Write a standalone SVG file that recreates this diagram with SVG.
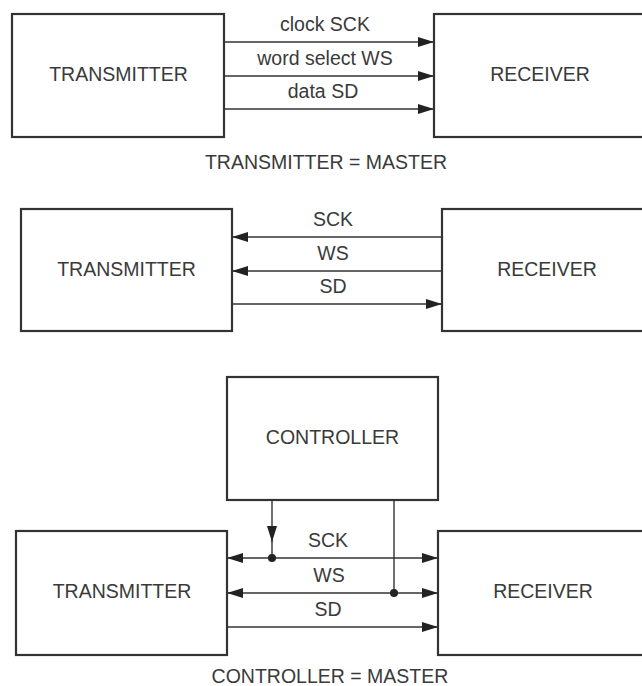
<svg xmlns="http://www.w3.org/2000/svg" width="642" height="686" viewBox="0 0 642 686">
<style>
.box{fill:#fff;stroke:#333;stroke-width:2.2}
.t{font-family:"Liberation Sans",Arial,sans-serif;font-size:19.5px;fill:#3a3a3a;text-anchor:middle}
.ln{stroke:#333;stroke-width:1.4;fill:none}
.dot{fill:#222}
</style>
<defs>
<marker id="ah" markerUnits="userSpaceOnUse" markerWidth="17" markerHeight="11" refX="16" refY="5" orient="auto-start-reverse">
<path d="M0,0 L16,5 L0,10 z" fill="#222"/>
</marker>
</defs>
<rect width="642" height="686" fill="#fff"/>

<g id="tx1"><rect class="box" x="12" y="14" width="212" height="123"/><text class="t" x="118.5" y="81">TRANSMITTER</text></g>
<g id="rx1"><rect class="box" x="434" y="14" width="220" height="123"/><text class="t" x="540" y="81">RECEIVER</text></g>
<g id="tx2"><rect class="box" x="21" y="209" width="211" height="122"/><text class="t" x="126.5" y="276">TRANSMITTER</text></g>
<g id="rx2"><rect class="box" x="442" y="209" width="212" height="122"/><text class="t" x="547" y="276">RECEIVER</text></g>
<g id="ctrl"><rect class="box" x="227" y="377" width="211" height="123"/><text class="t" x="332.5" y="444">CONTROLLER</text></g>
<g id="tx3"><rect class="box" x="16" y="531" width="211" height="124"/><text class="t" x="122" y="598">TRANSMITTER</text></g>
<g id="rx3"><rect class="box" x="438" y="531" width="216" height="124"/><text class="t" x="543" y="598">RECEIVER</text></g>

<g id="connectors">
<line class="ln" x1="224" y1="42" x2="434" y2="42" marker-end="url(#ah)"/>
<line class="ln" x1="224" y1="76" x2="434" y2="76" marker-end="url(#ah)"/>
<line class="ln" x1="224" y1="109" x2="434" y2="109" marker-end="url(#ah)"/>

<line class="ln" x1="442" y1="237" x2="232" y2="237" marker-end="url(#ah)"/>
<line class="ln" x1="442" y1="271" x2="232" y2="271" marker-end="url(#ah)"/>
<line class="ln" x1="232" y1="304" x2="442" y2="304" marker-end="url(#ah)"/>

<line class="ln" x1="227" y1="558" x2="438" y2="558" marker-start="url(#ah)" marker-end="url(#ah)"/>
<line class="ln" x1="227" y1="593" x2="438" y2="593" marker-start="url(#ah)" marker-end="url(#ah)"/>
<line class="ln" x1="227" y1="627" x2="438" y2="627" marker-end="url(#ah)"/>
<line class="ln" x1="272" y1="500" x2="272" y2="542" marker-end="url(#ah)"/>
<line class="ln" x1="272" y1="540" x2="272" y2="558"/>
<line class="ln" x1="394" y1="500" x2="394" y2="593"/>
<circle class="dot" cx="272" cy="558" r="4"/>
<circle class="dot" cx="394" cy="593" r="4"/>
</g>

<g id="labels">
<text class="t" x="325" y="31">clock SCK</text>
<text class="t" x="325" y="65">word select WS</text>
<text class="t" x="323" y="98">data SD</text>
<text class="t" x="326" y="169">TRANSMITTER = MASTER</text>
<text class="t" x="333" y="226">SCK</text>
<text class="t" x="333" y="260">WS</text>
<text class="t" x="333" y="293">SD</text>
<text class="t" x="328" y="547">SCK</text>
<text class="t" x="329" y="582">WS</text>
<text class="t" x="328" y="616">SD</text>
<text class="t" x="330" y="683">CONTROLLER = MASTER</text>
</g>
</svg>
